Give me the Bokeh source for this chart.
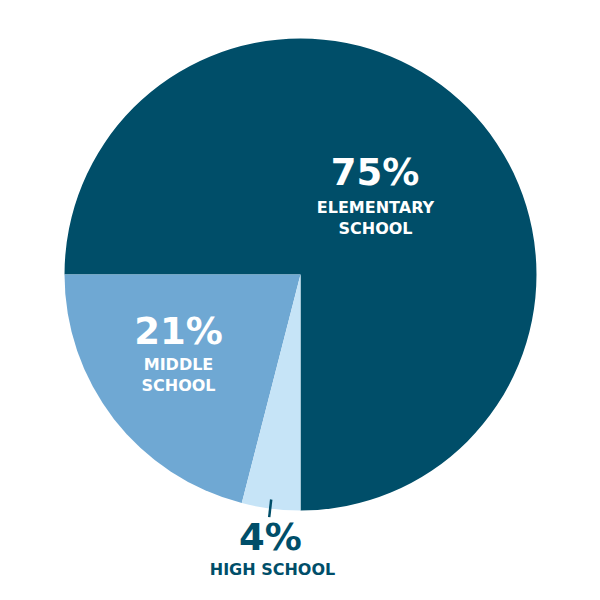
import math
from bokeh.plotting import figure
from bokeh.models import Range1d, ColumnDataSource
from bokeh.core.properties import value
from bokeh.embed import file_html
from bokeh.resources import INLINE

# ---- data ----
categories = ["ELEMENTARY SCHOOL", "MIDDLE SCHOOL", "HIGH SCHOOL"]
shares = [75, 21, 4]
colors = ["#004e69", "#6fa8d3", "#c6e4f7"]
label_lines = [["ELEMENTARY", "SCHOOL"], ["MIDDLE", "SCHOOL"], ["HIGH SCHOOL"]]

# ---- layout ----
W = H = 584
cx, cy, R = 300, 326, 236

p = figure(width=W, height=H, output_backend="svg", toolbar_location=None,
           x_range=Range1d(0, 584), y_range=Range1d(16, 600), min_border=0)
p.axis.visible = False
p.grid.visible = False
p.outline_line_color = None
p.background_fill_color = "white"
p.border_fill_color = "white"

total = sum(shares)
starts, ends = [], []
a = -math.pi / 2
for s in shares:
    starts.append(a)
    a += s / total * 2 * math.pi
    ends.append(a)

src = ColumnDataSource(dict(start=starts, end=ends, color=colors, cat=categories))
p.wedge(x=cx, y=cy, radius=R, start_angle="start", end_angle="end",
        fill_color="color", line_color=None, source=src)

# label placement (layout only)
num_pos = [(374.5, 428), (178, 269), (270, 63)]
line_pos = [[(375, 393.5), (375, 372.5)], [(178, 236), (178, 215)], [(272, 31)]]
text_colors = ["white", "white", colors[0]]

for i, s in enumerate(shares):
    nx, ny = num_pos[i]
    p.text(x=[nx], y=[ny], text=[f"{s}%"], text_align="center", text_baseline="alphabetic",
           text_font=value("DejaVu Sans"), text_font_style="bold", text_font_size="37px",
           text_color=text_colors[i])
    for (lx, ly), t in zip(line_pos[i], label_lines[i]):
        p.text(x=[lx], y=[ly], text=[t], text_align="center", text_baseline="alphabetic",
               text_font=value("DejaVu Sans"), text_font_style="bold", text_font_size="16px",
               text_color=text_colors[i])

# leader line for the small slice
p.segment(x0=[270.7], y0=[101], x1=[268.7], y1=[83.3], line_color=colors[0], line_width=2.5)

open("out.html", "w").write(file_html(p, INLINE))
